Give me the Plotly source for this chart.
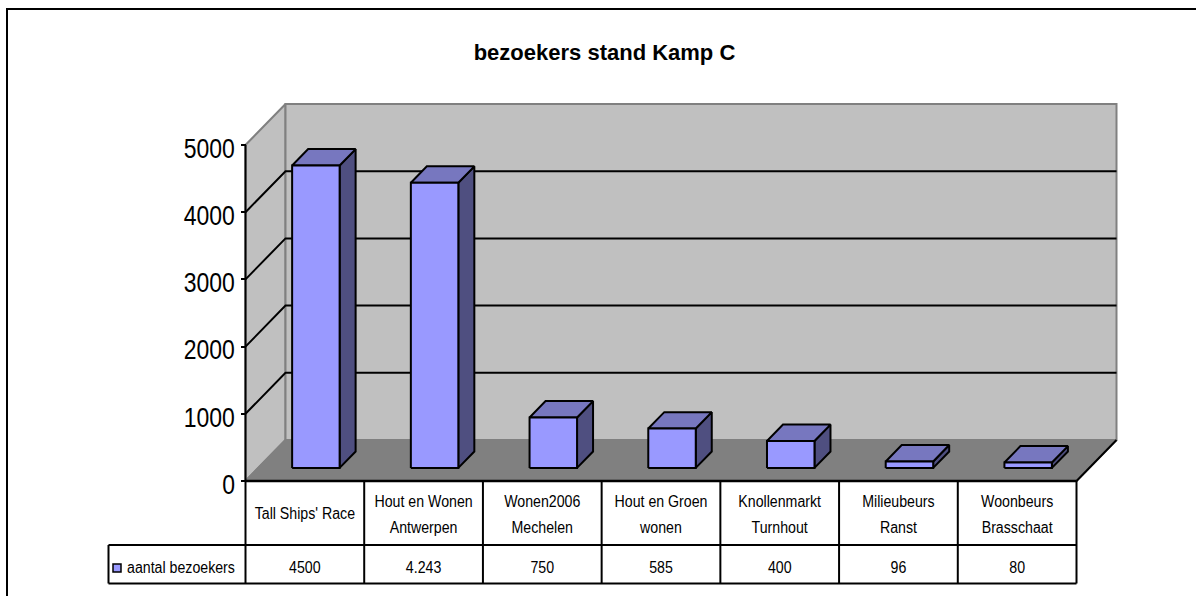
import plotly.graph_objects as go

title = "bezoekers stand Kamp C"
series_name = "aantal bezoekers"
category_lines = [["Tall Ships' Race"], ["Hout en Wonen", "Antwerpen"], ["Wonen2006", "Mechelen"],
                  ["Hout en Groen", "wonen"], ["Knollenmarkt", "Turnhout"], ["Milieubeurs", "Ranst"],
                  ["Woonbeurs", "Brasschaat"]]
values = [4500, 4243, 750, 585, 400, 96, 80]
value_labels = ["4500", "4.243", "750", "585", "400", "96", "80"]
y_ticks = [0, 1000, 2000, 3000, 4000, 5000]

W, H = 1196, 596
L, R, T, B = 245.5, 1076.5, 145.0, 481.0      # front plane of the chart in pixels
n = len(values)
YMAX = y_ticks[-1]
ux = n / (R - L)
uy = YMAX / (B - T)
DX = 40 * ux       # full depth of the 3D box, in axis units
DY = 41 * uy
F0, F1 = 0.32, 0.72   # bar front / back as fractions of depth
BL, BW = 0.285, 0.40  # bar left offset and width within a category


def X(px):
    return (px - L) * ux


def Y(py):
    return (B - py) * uy


def proj(x, y, d=0.0):
    return x + d * DX, y + d * DY


def poly(pts, fill=None, line="black", width=2, close=True):
    xs = [p[0] for p in pts]
    ys = [p[1] for p in pts]
    if close:
        xs.append(xs[0])
        ys.append(ys[0])
    return go.Scatter(x=xs, y=ys, mode="lines", fill="toself" if fill else None, fillcolor=fill,
                      line=dict(color=line, width=width), hoverinfo="skip", showlegend=False)


WALL, FLOOR, EDGE = "#C0C0C0", "#808080", "#808080"
FRONT, TOP, SIDE = "#9999FF", "#7777BF", "#4F4F80"
FONT = "Liberation Sans, Arial, sans-serif"

fig = go.Figure()

# outer frame (runs off the page on the right and bottom)
fig.add_trace(poly([(X(7), Y(H + 10)), (X(7), Y(9)), (X(W + 10), Y(9))], width=2, close=False))

# walls and floor
fig.add_trace(poly([proj(0, 0), proj(0, YMAX), proj(0, YMAX, 1), proj(0, 0, 1)], fill=WALL, line=EDGE, width=2))
fig.add_trace(poly([proj(0, 0, 1), proj(0, YMAX, 1), proj(n, YMAX, 1), proj(n, 0, 1)], fill=WALL, line=EDGE, width=2))
fig.add_trace(poly([proj(0, 0), proj(0, 0, 1), proj(n, 0, 1), proj(n, 0)], fill=FLOOR, line=EDGE, width=2))
fig.add_trace(poly([proj(n, 0), proj(n, 0, 1)], close=False))

# gridlines on the side and back walls
for t in y_ticks[1:-1]:
    fig.add_trace(poly([proj(0, t), proj(0, t, 1), proj(n, t, 1)], close=False))

# bars
for i, v in enumerate(values):
    x0, x1 = i + BL, i + BL + BW
    fig.add_trace(poly([proj(x1, 0, F0), proj(x1, v, F0), proj(x1, v, F1), proj(x1, 0, F1)], fill=SIDE))
    fig.add_trace(poly([proj(x0, v, F0), proj(x0, v, F1), proj(x1, v, F1), proj(x1, v, F0)], fill=TOP))
    fig.add_trace(poly([proj(x0, 0, F0), proj(x0, v, F0), proj(x1, v, F0), proj(x1, 0, F0)], fill=FRONT))

# front axis edge and data table
r1, r2 = Y(545), Y(583.5)
fig.add_trace(poly([(0, 0), (0, YMAX)], close=False, width=2))
fig.add_trace(poly([(0, 0), (n, 0)], close=False, width=2.5))
fig.add_trace(poly([(X(108.5), r1), (n, r1)], close=False, width=2))
fig.add_trace(poly([(X(108.5), r2), (n, r2)], close=False, width=2))
fig.add_trace(poly([(X(108.5), r1), (X(108.5), r2)], close=False, width=2))
for i in range(n + 1):
    fig.add_trace(poly([(i, 0), (i, r2)], close=False, width=2))

txt = dict(mode="text", hoverinfo="skip", showlegend=False,
           textfont=dict(family=FONT, size=17.3, color="black"))
for i, lines in enumerate(category_lines):
    ys = [Y(514.5)] if len(lines) == 1 else [Y(503), Y(528.5)]
    fig.add_trace(go.Scatter(x=[i + 0.5] * len(lines), y=ys, text=lines, **txt))
fig.add_trace(go.Scatter(x=[i + 0.5 for i in range(n)], y=[Y(568.5)] * n, text=value_labels, **txt))
fig.add_trace(go.Scatter(x=[X(127)], y=[Y(569)], text=[series_name], textposition="middle right", **txt))
fig.add_trace(go.Scatter(x=[X(117)], y=[Y(568)], mode="markers", hoverinfo="skip", showlegend=False,
                         marker=dict(symbol="square", size=8, color=FRONT, line=dict(color="black", width=1.5))))

fig.update_layout(
    width=W, height=H, autosize=False, showlegend=False,
    margin=dict(l=0, r=0, t=0, b=0, pad=0),
    paper_bgcolor="white", plot_bgcolor="rgba(0,0,0,0)",
    title=dict(text=f"<b>{title}</b>", x=604.5 / W, xanchor="center", y=1 - 52 / H, yanchor="middle",
               xref="container", yref="container",
               font=dict(family=FONT, size=22, color="black")),
    xaxis=dict(range=[X(0), X(W)], visible=False, fixedrange=True),
    yaxis=dict(range=[Y(H), Y(0)], tickvals=y_ticks, showgrid=False, zeroline=False, showline=False,
               anchor="free", position=L / W,
               ticks="outside", ticklen=5, tickwidth=2, tickcolor="black", ticklabelshift=3,
               tickfont=dict(family=FONT, size=28, color="black"), fixedrange=True),
)

# the reference lettering is a condensed sans: squeeze the real text horizontally; drop the page margin
post = """
document.documentElement.style.overflow = 'hidden';
document.body.style.margin = '0';
document.querySelectorAll('.main-svg .textpoint text, .main-svg .ytick text').forEach(function (t) {
  t.setAttribute('textLength', 0.82 * t.getComputedTextLength());
  t.setAttribute('lengthAdjust', 'spacingAndGlyphs');
});
"""
fig.write_html("out.html", config=dict(displayModeBar=False), post_script=post)
